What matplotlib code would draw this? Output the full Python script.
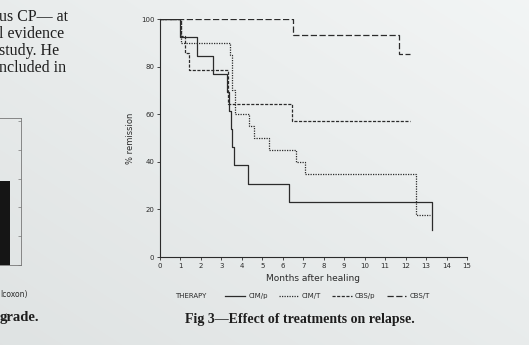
import matplotlib
matplotlib.use("Agg")
import numpy as np
import matplotlib.pyplot as plt

# Kaplan-Meier style step curves, % remission vs months after healing
cim_p_t = [0, 1.0, 1.8, 2.6, 3.25, 3.35, 3.45, 3.5, 3.6, 4.3, 6.3, 13.3]
cim_p_s = [100, 92.3, 84.6, 76.9, 69.2, 61.5, 53.8, 46.2, 38.5, 30.8, 23.1, 11.5]

cim_t_t = [0, 1.05, 3.4, 3.5, 3.65, 4.35, 4.6, 5.35, 6.65, 7.1, 12.5, 13.2]
cim_t_s = [100, 90, 85, 70, 60, 55, 50, 45, 40, 35, 17.5, 17.5]

cbs_p_t = [0, 1.05, 1.2, 1.4, 3.3, 6.45, 12.2]
cbs_p_s = [100, 92.9, 85.7, 78.6, 64.3, 57.1, 57.1]

cbs_t_t = [0, 6.5, 11.7, 12.2]
cbs_t_s = [100, 93.3, 85.5, 85.5]

series = [
    ("CIM/p", cim_p_t, cim_p_s, "-"),
    ("CIM/T", cim_t_t, cim_t_s, (0, (1, 1))),
    ("CBS/p", cbs_p_t, cbs_p_s, (0, (2.5, 1.2))),
    ("CBS/T", cbs_t_t, cbs_t_s, (0, (5, 2))),
]

x_ticks = list(range(0, 16))
y_ticks = [0, 20, 40, 60, 80, 100]

# partial bar chart cut off at the left page edge
left_bar_val = [2.9]
left_ticks = [0, 1, 2, 3, 4, 5]

paper = "#e8ebea"
ink = "#2b2b2b"

fig = plt.figure(figsize=(5.29, 3.45), dpi=100, facecolor=paper)

# photo lighting: brighter top right, greyer bottom left
yy, xx = np.mgrid[0:345, 0:529]
shade = 0.5 * (xx / 528) + 0.5 * (1 - yy / 344)
bg = np.zeros((345, 529, 3))
lo = np.array([0.875, 0.89, 0.89])
hi = np.array([0.95, 0.96, 0.96])
for c in range(3):
    bg[:, :, c] = lo[c] + (hi[c] - lo[c]) * shade
fig.figimage(bg, xo=0, yo=0, origin="upper", zorder=-10)

ax = fig.add_axes([160 / 529, 1 - 257 / 345, 307 / 529, 238 / 345])
ax.set_facecolor("none")
for name, t, s, ls in series:
    ax.step(t, s, where="post", color=ink, lw=0.9, ls=ls, label=name)

ax.set_xlim(0, 15)
ax.set_ylim(0, 100)
ax.set_xticks(x_ticks)
ax.set_yticks(y_ticks)
ax.tick_params(labelsize=5, colors=ink, length=2, width=0.6, pad=2)
for side in ["top", "right"]:
    ax.spines[side].set_visible(False)
for side in ["left", "bottom"]:
    ax.spines[side].set_color(ink)
    ax.spines[side].set_linewidth(0.8)
ax.set_ylabel("% remission", fontsize=6, color=ink, labelpad=4)
ax.set_xlabel("Months after healing", fontsize=6.5, color=ink, labelpad=4)

fig.text(175 / 529, 1 - 296 / 345, "THERAPY", fontsize=5, color=ink,
         va="center", ha="left")
fig.legend(loc="center left", bbox_to_anchor=(219 / 529, 1 - 296 / 345),
           ncol=4, frameon=False, fontsize=5, handlelength=2.8,
           handletextpad=0.5, columnspacing=1.6, labelcolor=ink)

fig.text(185 / 529, 1 - 320 / 345, "Fig 3\u2014Effect of treatments on relapse.",
         fontsize=10, fontweight="bold", family="Liberation Serif",
         color="#1e1e1e", va="center", ha="left")

# fragments of the surrounding page
body = ["us CP\u2014 at", "l evidence", "study. He", "ncluded in"]
for i, line in enumerate(body):
    fig.text(-1 / 529, 1 - (17 + 17 * i) / 345, line, fontsize=11.5,
             family="Liberation Serif", color="#1e1e1e", va="center", ha="left")
fig.text(0, 1 - 295 / 345, "lcoxon)", fontsize=5.5, color=ink, va="center")
fig.text(0, 1 - 318 / 345, "grade.", fontsize=10.5, fontweight="bold",
         family="Liberation Serif", color="#1e1e1e", va="center")

ax2 = fig.add_axes([-40 / 529, 1 - 265 / 345, 61 / 529, 147 / 345])
ax2.set_facecolor("none")
ax2.bar([4.4], left_bar_val, width=1.0, color="#151515")
ax2.set_xlim(0, 6)
ax2.set_ylim(0, 5.1)
ax2.set_yticks(left_ticks)
ax2.set_xticks([])
ax2.yaxis.tick_right()
ax2.tick_params(axis="y", labelright=False, length=2, width=0.5,
                direction="in", colors="#777777")
for sp in ax2.spines.values():
    sp.set_color("#777777")
    sp.set_linewidth(0.6)

fig.savefig("out.png", dpi=100, facecolor=paper)
